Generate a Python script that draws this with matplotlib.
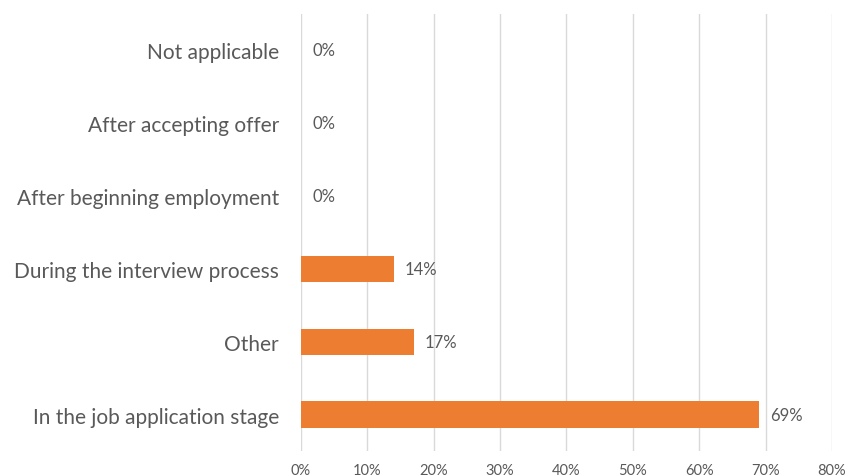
import matplotlib.pyplot as plt
from matplotlib.ticker import PercentFormatter

categories = ['In the job application stage', 'Other', 'During the interview process',
              'After beginning employment', 'After accepting offer', 'Not applicable']
values = [69, 17, 14, 0, 0, 0]
xticks = [0, 10, 20, 30, 40, 50, 60, 70, 80]

plt.rcParams['font.family'] = ['Lato', 'DejaVu Sans']
grey = '#595959'

fig = plt.figure(figsize=(8.61, 4.77), dpi=100)
ax = fig.add_axes([0.3496, 0.0524, 0.6167, 0.9162])

pos = list(range(len(categories)))
ax.barh(pos, values, height=0.36, color='#ED7D31', zorder=3)
for p, v in zip(pos, values):
    ax.annotate(f'{v}%', (v, p), xytext=(8, 0), textcoords='offset points',
                va='center', ha='left', fontsize=12, color=grey)

ax.set_xlim(0, 80)
ax.set_ylim(-0.5, len(categories) - 0.5)
ax.set_xticks(xticks)
ax.xaxis.set_major_formatter(PercentFormatter(decimals=0))
ax.set_yticks(pos)
ax.set_yticklabels(categories, fontsize=15, color=grey)
ax.tick_params(axis='x', labelsize=10.5, colors=grey, length=0, pad=8.5)
ax.tick_params(axis='y', length=0, pad=16)
ax.grid(axis='x', color='#d9d9d9', linewidth=1, zorder=0)
for s in ax.spines.values():
    s.set_visible(False)

fig.savefig('out.png')
